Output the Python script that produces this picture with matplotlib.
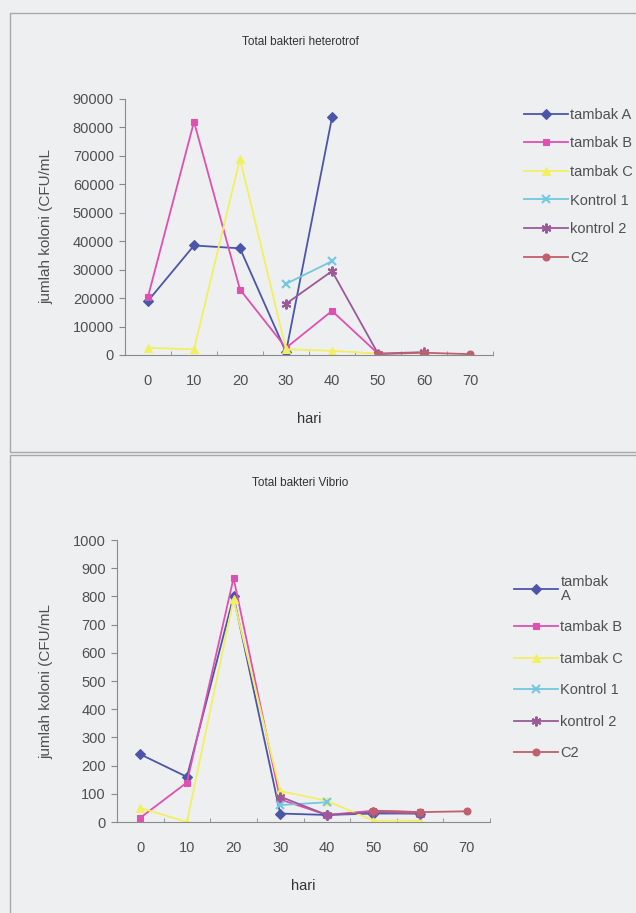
import numpy as np
import matplotlib
matplotlib.use("Agg")
import matplotlib.pyplot as plt
from matplotlib.patches import Rectangle

plt.rcParams['font.family'] = ['Liberation Sans', 'DejaVu Sans']

hari = ['0', '10', '20', '30', '40', '50', '60', '70']
nan = np.nan

# Total bakteri heterotrof (CFU/mL)
het_tambak_a = [19000, 38500, 37500, 1000, 83500, nan, nan, nan]
het_tambak_b = [20500, 82000, 23000, 2500, 15500, 500, nan, nan]
het_tambak_c = [2500, 2000, 69000, 2000, 1500, 500, nan, nan]
het_kontrol1 = [nan, nan, nan, 25000, 33000, nan, nan, nan]
het_kontrol2 = [nan, nan, nan, 18000, 29500, 500, 1000, nan]
het_c2 = [nan, nan, nan, nan, nan, 300, 800, 300]

# Total bakteri Vibrio (CFU/mL)
vib_tambak_a = [240, 160, 800, 30, 25, 30, 30, nan]
vib_tambak_b = [15, 140, 865, 80, 25, 40, 35, nan]
vib_tambak_c = [50, 0, 790, 110, 75, 5, 5, nan]
vib_kontrol1 = [nan, nan, nan, 60, 70, nan, nan, nan]
vib_kontrol2 = [nan, nan, nan, 90, 25, 35, 30, nan]
vib_c2 = [nan, nan, nan, nan, nan, 40, 35, 38]

names_top = ['tambak A', 'tambak B', 'tambak C', 'Kontrol 1', 'kontrol 2', 'C2']
names_bot = ['tambak\nA', 'tambak B', 'tambak C', 'Kontrol 1', 'kontrol 2', 'C2']
colors = ['#4b56a8', '#e050b0', '#f2f060', '#72c8e0', '#9a5a98', '#c0606e']
markers = ['D', 's', '^', 'x', (6, 2, 0), 'o']
sizes = [5, 5, 6, 6, 7, 5]

fig = plt.figure(figsize=(6.36, 9.13), dpi=100, facecolor='#eeeff1')

# panel frames
fig.patches.append(Rectangle((10/636, 1-452/913), 640/636, 439/913, transform=fig.transFigure,
                             fill=False, edgecolor='#a8a8a8', lw=1.0))
fig.patches.append(Rectangle((10/636, -0.01), 640/636, 1-455/913+0.01, transform=fig.transFigure,
                             fill=False, edgecolor='#a8a8a8', lw=1.0))

ax1 = fig.add_axes([125/636, 1-355/913, 368/636, 256/913])
ax2 = fig.add_axes([117/636, 1-822/913, 373/636, 282/913])

x = np.arange(len(hari))
top_series = [het_tambak_a, het_tambak_b, het_tambak_c, het_kontrol1, het_kontrol2, het_c2]
bot_series = [vib_tambak_a, vib_tambak_b, vib_tambak_c, vib_kontrol1, vib_kontrol2, vib_c2]

fs = 10.5
for ax, series, labels, left in [(ax1, top_series, names_top, 125), (ax2, bot_series, names_bot, 117)]:
    for s, lab, c, m, ms in zip(series, labels, colors, markers, sizes):
        ax.plot(x, s, color=c, marker=m, markersize=ms, lw=1.3, label=lab,
                markeredgewidth=1.5 if m in ('x', (6, 2, 0)) else 0.8)
    ax.set_facecolor('none')
    ax.set_xlim(-0.5, 7.5)
    ax.set_xticks(x)
    ax.set_xticklabels(hari)
    ax.set_xticks(np.arange(-0.5, 8, 1), minor=True)
    ax.tick_params(axis='x', which='major', length=0, pad=14, labelsize=fs, labelcolor='#505050')
    ax.tick_params(axis='x', which='minor', length=3, direction='in', color='#888888')
    ax.tick_params(axis='y', length=4, direction='out', color='#888888', labelsize=fs,
                   labelcolor='#505050', pad=4)
    for sp in ['top', 'right']:
        ax.spines[sp].set_visible(False)
    for sp in ['left', 'bottom']:
        ax.spines[sp].set_color('#8a8a8a')
    ax.set_xlabel('hari', fontsize=fs, color='#333333', labelpad=17)
    ax.set_ylabel('jumlah koloni (CFU/mL', fontsize=11, color='#505050')
    ax.yaxis.set_label_coords((53 - left) / (ax.get_position().width * 636), 0.5)

ax1.set_ylim(0, 90000)
ax1.set_yticks(np.arange(0, 90001, 10000))
ax2.set_ylim(0, 1000)
ax2.set_yticks(np.arange(0, 1001, 100))

fig.text(300/636, 1-42/913, 'Total bakteri heterotrof', ha='center', va='center', fontsize=8.5, color='#333333')
fig.text(300/636, 1-483/913, 'Total bakteri Vibrio', ha='center', va='center', fontsize=8.5, color='#333333')

ax1.legend(loc='upper left', bbox_to_anchor=(518/636, 1-102/913), bbox_transform=fig.transFigure,
           frameon=False, fontsize=fs, handlelength=3.0, handletextpad=0.2, labelspacing=1.0,
           labelcolor='#505050', borderaxespad=0)
leg2 = ax2.legend(loc='upper left', bbox_to_anchor=(508/636, 1-569/913), bbox_transform=fig.transFigure,
                  frameon=False, fontsize=fs, handlelength=3.0, handletextpad=0.2, labelspacing=1.2,
                  labelcolor='#505050', borderaxespad=0)
leg2.get_texts()[0].set_linespacing(1.0)

fig.savefig('out.png', dpi=100, facecolor=fig.get_facecolor())
